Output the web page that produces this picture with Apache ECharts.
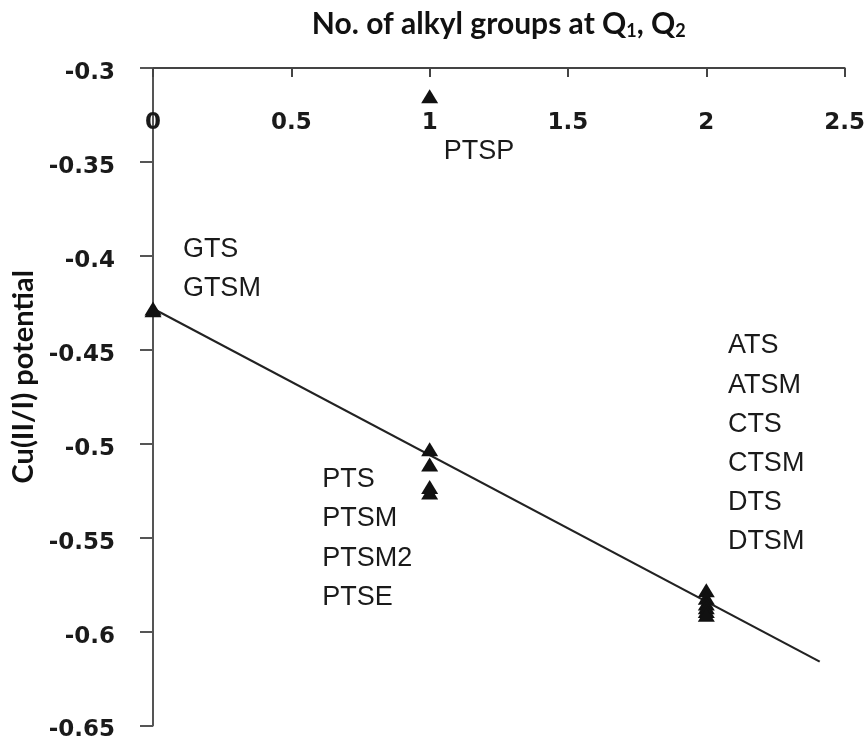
<!DOCTYPE html>
<html><head><meta charset="utf-8">
<script src="https://cdn.jsdelivr.net/npm/echarts@6/dist/echarts.min.js"></script>
<style>html,body{margin:0;padding:0;background:#fff}#c{width:868px;height:742px}</style>
</head><body><div id="c"></div>
<script>
// Data
const compounds   = ['PTSP','GTS','GTSM','PTS','PTSM','PTSM2','PTSE','ATS','ATSM','CTS','CTSM','DTS','DTSM'];
const alkylGroups = [1, 0, 0, 1, 1, 1, 1, 2, 2, 2, 2, 2, 2];
const cuPotential = [-0.315, -0.428, -0.429, -0.503, -0.511, -0.523, -0.526, -0.578, -0.582, -0.585, -0.587, -0.589, -0.591];
// regression line end points
const fitX = [-0.09, 2.41];
const fitY = [-0.421, -0.616];
// annotation text anchors (left edge, vertical middle)
const labelText = ['PTSP','GTS','GTSM','PTS','PTSM','PTSM2','PTSE','ATS','ATSM','CTS','CTSM','DTS','DTSM'];
const labelX = [1.051, 0.108, 0.108, 0.612, 0.612, 0.612, 0.612, 2.078, 2.078, 2.078, 2.078, 2.078, 2.078];
const labelY = [-0.3446, -0.3967, -0.4174, -0.5193, -0.5400, -0.5613, -0.5820, -0.4476, -0.4689, -0.4896, -0.5103, -0.5315, -0.5523];
// axes
const xMin = 0, xMax = 2.5, xStep = 0.5;
const yMin = -0.65, yMax = -0.3, yStep = 0.05;

const chart = echarts.init(document.getElementById('c'), null, {renderer: 'canvas'});
const tickFont = {fontFamily: 'DejaVu Sans', fontWeight: 'bold', fontSize: 23, color: '#1a1a1a'};
chart.setOption({
  backgroundColor: '#fff',
  animation: false,
  grid: {left: 153, right: 20, top: 68, bottom: 15, containLabel: false},
  xAxis: {
    type: 'value', position: 'top', min: xMin, max: xMax, interval: xStep,
    name: 'No. of alkyl groups at Q{sub|1}, Q{sub|2}',
    nameLocation: 'middle', nameGap: 28,
    nameTextStyle: {
      fontFamily: 'Lato', fontWeight: 'bold', fontSize: 30, color: '#111',
      rich: {sub: {fontFamily: 'Lato', fontWeight: 'bold', fontSize: 18, color: '#111', verticalAlign: 'bottom', padding: [14, 0, 0, 0]}}
    },
    axisLine: {show: true, lineStyle: {color: '#444', width: 2}},
    axisTick: {show: true, inside: true, length: 9, lineStyle: {color: '#444', width: 2}},
    axisLabel: Object.assign({inside: true, margin: 44, formatter: v => String(v)}, tickFont),
    splitLine: {show: false}
  },
  yAxis: {
    type: 'value', min: yMin, max: yMax, interval: yStep,
    name: 'Cu(II/I) potential', nameLocation: 'middle', nameGap: 110, nameRotate: 90,
    nameTextStyle: {fontFamily: 'Lato', fontWeight: 'bold', fontSize: 29, color: '#111', padding: [0, 0, 0, 40]},
    axisLine: {show: true, onZero: false, lineStyle: {color: '#555', width: 2}},
    axisTick: {show: true, length: 13, lineStyle: {color: '#555', width: 2}},
    axisLabel: Object.assign({
      margin: 38,
      formatter: v => '{t|' + String(+v.toFixed(2)) + '}',
      rich: {t: Object.assign({padding: [10, 0, 0, 0]}, tickFont)}
    }, tickFont),
    splitLine: {show: false}
  },
  series: [
    {
      type: 'line', data: fitX.map((x, i) => [x, fitY[i]]), clip: false,
      symbol: 'none', lineStyle: {color: '#222', width: 2.2}, z: 2
    },
    {
      type: 'scatter', data: alkylGroups.map((x, i) => [x, cuPotential[i], compounds[i]]),
      symbol: 'triangle', symbolSize: [17, 14], itemStyle: {color: '#111', opacity: 1}, clip: false, z: 3
    },
    {
      type: 'scatter', data: labelX.map((x, i) => [x, labelY[i], labelText[i]]),
      symbolSize: 0, silent: true, z: 4, itemStyle: {opacity: 1},
      label: {
        show: true, position: [0, 0], align: 'left', verticalAlign: 'middle',
        formatter: p => p.data[2],
        fontFamily: 'Liberation Sans', fontSize: 27, color: '#1a1a1a', opacity: 1
      }
    }
  ]
});
</script></body></html>
